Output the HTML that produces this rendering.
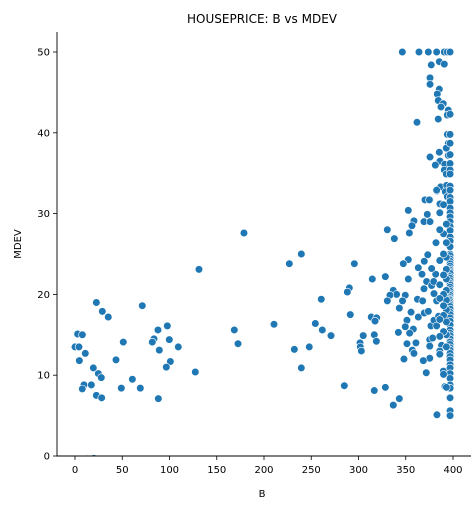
<!DOCTYPE html>
<html><head><meta charset="utf-8"><style>
body{margin:0;background:#fff}
svg{display:block;font-family:"DejaVu Sans","Liberation Sans",sans-serif}
</style></head><body>
<svg id="chart" width="476" height="509" xmlns="http://www.w3.org/2000/svg">
<text x="262" y="23" text-anchor="middle" font-size="12">HOUSEPRICE: B vs MDEV</text>
<text x="262" y="497" text-anchor="middle" font-size="10">B</text>
<text x="21" y="244" text-anchor="middle" font-size="10" transform="rotate(-90 21 244)">MDEV</text>
<defs><clipPath id="pc"><rect x="57" y="30" width="415" height="426"/></clipPath></defs>
<g id="marks" clip-path="url(#pc)"></g>
<g id="axes"></g>
</svg>
<script>
const xTicks=[0,50,100,150,200,250,300,350,400];
const yTicks=[0,10,20,30,40,50];
const bVals=[22.6,28.9,35.2,71.2,2.8,7.8,0,4.2,10.9,4.6,51.1,43.4,19.4,24.7,27.8,9.5,7.7,17.3,22.6,28.2,49,60.7,69.1,88.2,87.8,97.7,83.6,81.8,99.8,89.2,109.3,100.9,96.6,127.3,168.6,172.5,131.2,178.8,13,20,
239.5,226.8,295.6,210.6,260.6,254.3,261.7,270.9,232.1,247.9,239.5,285,291.3,290.3,288.2,314.6,328.4,330.5,337.9,313.5,319.2,317.5,305,316.7,318.9,301.6,301.9,303,316.7,328.4,343.2,336.8,
352.7,358.7,356.6,353.8,352.7,347.4,352.7,336.8,340.3,333.3,330.5,349.5,346.6,343.2,355.6,351.3,349.5,358,342.2,354.1,351.3,360.8,357,358.7,348.1,368.3,371.7,363.3,367.2,362.4,367.9,363.3,
370,375.7,383,369.3,372.8,375.7,382,369.6,373.3,372.1,369.3,369.6,373.9,375.4,375.4,375.4,368.6,378.5,376.7,379.9,382.7,384.8,382.7,379.9,377.4,379.6,381.7,377.4,387.9,386.6,389.8,391.5,383,
346.4,364,373.9,382.7,390.8,394,377,385.5,390.8,375.7,375.7,385.5,383.4,384.4,389.7,387.3,395,394,361.9,384.4,394,395,392.9,385.5,375.7,395,386.2,381.3,391.3,390.8,392.9,386.9,393.3,382.7,391.9,394,370.4,375,386.2,352.7,
396.9,396.9,396.9,396.9,396.9,396.9,396.9,396.9,396.9,396.9,396.9,396.9,396.9,396.9,396.9,396.9,396.9,396.9,396.9,396.9,396.9,396.9,396.9,396.9,396.9,396.9,396.9,396.9,396.9,396.9,396.9,396.9,396.9,396.9,396.9,396.9,396.9,396.9,396.9,396.9,396.9,396.9,396.9,396.9,396.9,396.9,396.9,396.9,396.9,396.9,396.9,396.9,396.9,396.9,396.9,396.9,396.9,396.9,396.9,396.9,396.9,396.9,396.9,396.9,396.9,396.9,396.9,396.9,396.9,396.9,396.9,396.9,396.9,396.9,396.9,
393,393,393,393,393,393,393,393,393,393,393,393,390,390,390,390,390,390,390,390,390,386,386,386,386,386,386,386,386,386];
const mVals=[19.0,17.9,17.2,18.6,15.1,15.0,13.5,13.5,12.7,11.8,14.1,11.9,10.9,10.2,9.7,8.8,8.3,8.8,7.5,7.2,8.4,9.5,8.4,7.1,15.6,16.1,14.5,14.1,14.4,13.1,13.5,11.7,11.0,10.4,15.6,13.9,23.1,27.6,-0.35,-0.3,
25.0,23.8,23.8,16.3,19.4,16.4,15.6,14.9,13.2,13.5,10.9,8.7,17.5,20.8,20.3,21.9,22.2,28.0,26.9,17.2,17.1,16.7,14.9,15.0,14.2,14.0,13.5,13.0,8.1,8.5,7.1,6.3,
30.4,29.1,28.5,27.6,24.3,23.8,21.9,20.5,20.0,19.9,19.2,19.9,19.2,18.3,17.8,16.8,16.0,15.7,15.3,15.2,13.9,14.0,13.1,12.7,12.0,11.8,10.3,23.3,22.5,19.4,19.2,17.2,
31.7,31.7,32.8,29.0,29.9,29.0,26.4,24.1,24.9,21.6,20.7,17.7,17.9,14.4,13.6,12.1,11.8,14.6,16.1,16.8,16.1,17.3,19.2,20.1,21.1,21.6,22.5,23.2,13.7,12.7,10.5,8.6,5.1,
50,50,50,50,50,50,48.4,48.8,48.5,46.8,46.0,45.4,44.8,44.0,43.6,43.2,42.8,42.2,41.3,41.7,39.8,38.7,38.1,37.6,37.0,37.2,36.5,36.0,36.1,35.4,34.9,33.3,33.5,32.9,32.7,32.1,31.7,31.7,31.2,30.4,
50,50,42.3,39.8,38.7,37.3,36.2,35.4,34.9,33.4,32.9,32.0,31.5,30.7,30.1,29.6,29.0,28.4,27.9,27.1,26.6,25.9,25.0,24.8,24.4,24.1,23.8,23.5,23.2,23.0,22.8,22.6,22.2,22.0,21.7,21.4,21.2,20.9,20.6,20.4,20.1,19.9,19.6,19.4,19.3,19.1,18.9,18.7,18.5,18.2,17.8,17.5,17.1,16.7,16.2,15.6,15.2,14.9,14.5,14.1,13.8,13.4,13.1,12.7,12.3,11.9,11.3,10.9,10.2,9.6,8.8,8.4,7.2,5.6,5.0,
28.7,26.4,24.6,23.1,21.9,20.5,19.3,18.1,16.6,15.0,13.5,8.5,31.1,27.5,25.0,22.4,20.0,18.6,17.4,15.4,10.1,30.1,28.0,24.2,21.2,19.5,16.9,14.8,13.0,12.6];
const NS="http://www.w3.org/2000/svg";
const xS=v=>75+v*(453-75)/400;
const yS=v=>456-v*(456-52)/50;
const marks=document.getElementById('marks'),axes=document.getElementById('axes');
function mk(tag,attrs,parent){const e=document.createElementNS(NS,tag);for(const k in attrs)e.setAttribute(k,attrs[k]);parent.appendChild(e);return e;}
for(let i=0;i<bVals.length;i++){
  const c=mk('circle',{cx:xS(bVals[i]),cy:yS(mVals[i]),r:3.8,fill:'#1f77b4',stroke:'#fff','stroke-width':0.6},marks);
  
  
}
const ys=mk('line',{x1:57,y1:32,x2:57,y2:456.5,stroke:'#000','stroke-width':0.9},axes);


const xs=mk('line',{x1:56.5,y1:456,x2:471,y2:456,stroke:'#000','stroke-width':0.9},axes);


xTicks.forEach(t=>{
  mk('line',{x1:xS(t),y1:456,x2:xS(t),y2:460,stroke:'#000','stroke-width':0.8},axes);
  const tx=mk('text',{x:xS(t),y:473,'text-anchor':'middle','font-size':10},axes);
  tx.textContent=t;
  
  
});
yTicks.forEach(t=>{
  mk('line',{x1:53,y1:yS(t),x2:57,y2:yS(t),stroke:'#000','stroke-width':0.8},axes);
  const tx=mk('text',{x:50,y:yS(t)+3.5,'text-anchor':'end','font-size':10},axes);
  tx.textContent=t;
  
  
});
</script>
</body></html>
